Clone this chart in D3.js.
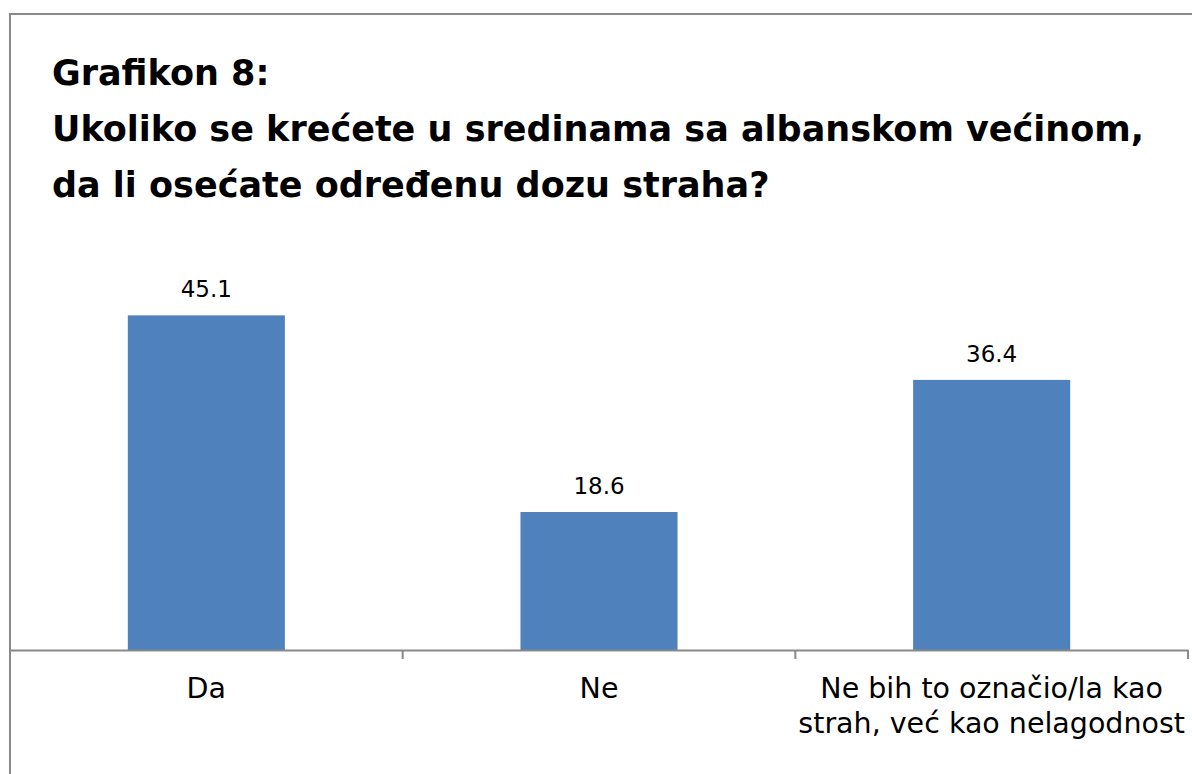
<!DOCTYPE html>
<html>
<head>
<meta charset="utf-8">
<script src="https://cdn.jsdelivr.net/npm/d3@7"></script>
<style>
  body { margin: 0; background: #fff; }
  svg { display: block; }
</style>
</head>
<body>
<svg id="canvas"></svg>
<script>
let titleLines = ["Grafikon 8:", "Ukoliko se krećete u sredinama sa albanskom većinom,", "da li osećate određenu dozu straha?"]
let categories = ["Da", "Ne", "Ne bih to označio/la kao strah, već kao nelagodnost"]
let categoryLines = [["Da"], ["Ne"], ["Ne bih to označio/la kao", "strah, već kao nelagodnost"]]
let values = [45.1, 18.6, 36.4]

let width = 1192
let height = 774
let font = "'Century Gothic', 'DejaVu Sans', sans-serif"

let canvas = d3.select("#canvas")
    .attr("width", width)
    .attr("height", height)

// chart frame (runs past the right and bottom edges)
canvas.append("rect")
    .attr("x", 10).attr("y", 14)
    .attr("width", 1300).attr("height", 900)
    .attr("fill", "#fff")
    .attr("stroke", "#898989")
    .attr("stroke-width", 2)

canvas.append("g")
    .selectAll("text")
    .data(titleLines)
    .enter()
    .append("text")
    .attr("x", 52)
    .attr("y", (d, i) => 85 + i * 56)
    .attr("font-family", font)
    .attr("font-weight", "bold")
    .attr("font-size", 35)
    .attr("fill", "#000")
    .text(d => d)

let xScale = d3.scaleBand()
    .domain(categories)
    .range([10, 1188])
    .padding(0)

let yScale = d3.scaleLinear()
    .domain([0, 50])
    .range([650, 279])

let barW = xScale.bandwidth() * 0.4

canvas.selectAll(".bar")
    .data(values)
    .enter()
    .append("rect")
    .attr("class", "bar")
    .attr("x", (d, i) => xScale(categories[i]) + (xScale.bandwidth() - barW) / 2)
    .attr("y", d => yScale(d))
    .attr("width", barW)
    .attr("height", d => yScale(0) - yScale(d))
    .attr("fill", "#4F81BD")

canvas.selectAll(".val")
    .data(values)
    .enter()
    .append("text")
    .attr("class", "val")
    .attr("x", (d, i) => xScale(categories[i]) + xScale.bandwidth() / 2)
    .attr("y", d => yScale(d) - 18)
    .attr("text-anchor", "middle")
    .attr("font-family", font)
    .attr("font-size", 23)
    .attr("fill", "#000")
    .text(d => d.toFixed(1))

// axis with ticks between categories
let xAxis = d3.axisBottom(xScale).tickSize(0).tickFormat("")
let axisG = canvas.append("g")
    .attr("transform", "translate(0,650)")
    .call(xAxis)
axisG.select(".domain").attr("stroke", "#898989").attr("stroke-width", 2)

let boundaries = categories.map(c => xScale(c)).concat([xScale.range()[1]])
axisG.selectAll(".sep")
    .data(boundaries)
    .enter()
    .append("line")
    .attr("x1", d => d).attr("x2", d => d)
    .attr("y1", 0).attr("y2", 9)
    .attr("stroke", "#898989")
    .attr("stroke-width", 2)

categoryLines.forEach((lines, i) => {
    canvas.append("text")
        .attr("x", xScale(categories[i]) + xScale.bandwidth() / 2)
        .attr("y", 698)
        .attr("text-anchor", "middle")
        .attr("font-family", font)
        .attr("font-size", 28.5)
        .attr("fill", "#000")
        .selectAll("tspan")
        .data(lines)
        .enter()
        .append("tspan")
        .attr("x", xScale(categories[i]) + xScale.bandwidth() / 2)
        .attr("dy", (d, j) => j === 0 ? 0 : 35)
        .text(d => d)
})
</script>
</body>
</html>
